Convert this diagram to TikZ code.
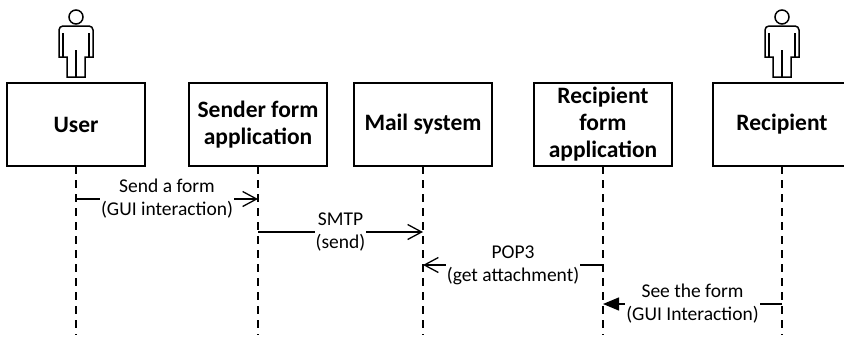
\documentclass[tikz,border=0pt]{standalone}
\usepackage{fontspec}
\setmainfont{Carlito}
\usetikzlibrary{positioning,arrows.meta}

\begin{document}
\begin{tikzpicture}[x=1pt,y=-1pt,
    obj node/.style={draw,line width=1.8pt,minimum width=138pt,minimum height=83pt,inner sep=0pt,outer sep=0pt,align=center,font=\fontsize{23.5}{27}\selectfont\bfseries},
    life line/.style={dash pattern=on 8pt off 6pt,line width=1.4pt},
    msg/.style={line width=1.3pt,-{Straight Barb[length=14pt,width=15pt]}},
    msg fill/.style={line width=1.3pt,-{Triangle[length=16pt,width=13pt]}},
    msg label/.style={fill=white,inner sep=1pt,align=center,font=\fontsize{19.5}{23}\selectfont},
    actor/.pic={
        \draw[line width=1.5pt] (0,-66) circle[radius=7pt];
        \draw[line width=1.5pt] (-9,-6) -- (-9,-26) -- (-17,-26) -- (-17,-53) arc[start angle=180,end angle=90,radius=4pt]
            -- (13,-57) arc[start angle=90,end angle=0,radius=4pt] -- (17,-26) -- (9,-26) -- (9,-6) -- cycle;
        \draw[line width=1.5pt] (-13,-50) -- (-13,-26) (13,-50) -- (13,-26) (0,-33) -- (0,-6);
    }]
    \useasboundingbox (0,0) rectangle (844,340);

    \node[obj node] (user) at (76,124.5) {User};
    \node[obj node] (sender) [right=44pt of user] {Sender form\\application};
    \node[obj node] (mail) [right=27pt of sender] {Mail system};
    \node[obj node] (recform) [right=42pt of mail] {Recipient\\form\\application};
    \node[obj node] (recip) [right=41pt of recform] {Recipient};

    \pic at (user.north) {actor};
    \pic at (recip.north) {actor};

    \foreach \n in {user,sender,mail,recform,recip}
        \draw[life line] (\n.south) -- ([yshift=-169pt]\n.south);

    \draw[msg] ([yshift=-33pt]user.south) -- node[msg label] {Send a form\\(GUI interaction)} ([yshift=-33pt]sender.south);
    \draw[msg] ([yshift=-66pt]sender.south) -- node[msg label] {SMTP\\(send)} ([yshift=-66pt]mail.south);
    \draw[msg] ([yshift=-99pt]recform.south) -- node[msg label] {POP3\\(get attachment)} ([yshift=-99pt]mail.south);
    \draw[msg fill] ([yshift=-138pt]recip.south) -- node[msg label] {See the form\\(GUI Interaction)} ([yshift=-138pt]recform.south);
\end{tikzpicture}
\end{document}
